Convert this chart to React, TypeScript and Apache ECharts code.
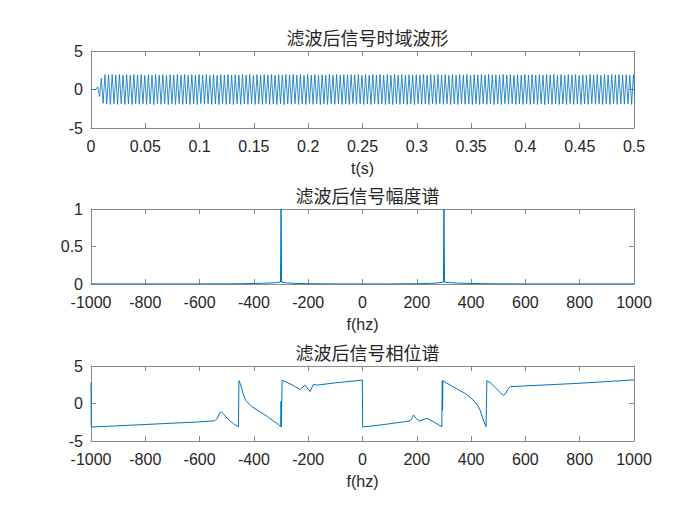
import React, { useEffect, useRef } from "react";
import * as echarts from "echarts";

// ---------- data ----------
const titles = ["滤波后信号时域波形", "滤波后信号幅度谱", "滤波后信号相位谱"];
const xNames = ["t(s)", "f(hz)", "f(hz)"];

// time-domain waveform: leading flat part, then successive half-cycle extremes
const waveLead: number[][] = [[0, 0]];
const waveStart = 0.0045; // s, first extreme
const waveStep = 1 / 600; // s, half period of the 300 Hz tone
const wavePeaks = [
  0, 0.35, -0.9, 1.45, -1.8,
  1.92, -1.86, 1.88, -1.95, 1.94, -1.84, 1.87, -1.93, 1.95, -1.85, 1.86, -1.94,
  1.93, -1.87, 1.85, -1.95, 1.94, -1.83, 1.88, -1.92, 1.95, -1.86, 1.84, -1.94,
  1.91, -1.88, 1.86, -1.96, 1.93, -1.84, 1.89, -1.92, 1.94, -1.85, 1.85, -1.95,
  1.92, -1.86, 1.88, -1.94, 1.95, -1.83, 1.87, -1.93, 1.94, -1.86, 1.84, -1.95,
  1.93, -1.87, 1.86, -1.95, 1.94, -1.84, 1.88, -1.92, 1.95, -1.85, 1.85, -1.94,
  1.92, -1.88, 1.85, -1.96, 1.93, -1.83, 1.89, -1.93, 1.94, -1.86, 1.86, -1.95,
  1.91, -1.86, 1.87, -1.94, 1.95, -1.84, 1.88, -1.92, 1.95, -1.85, 1.84, -1.94,
  1.93, -1.87, 1.86, -1.95, 1.94, -1.83, 1.87, -1.93, 1.94, -1.86, 1.85, -1.95,
  1.92, -1.86, 1.88, -1.96, 1.93, -1.84, 1.89, -1.92, 1.95, -1.85, 1.86, -1.94,
  1.93, -1.88, 1.85, -1.95, 1.94, -1.83, 1.88, -1.93, 1.94, -1.86, 1.84, -1.95,
  1.91, -1.87, 1.86, -1.94, 1.95, -1.84, 1.87, -1.92, 1.95, -1.85, 1.85, -1.94,
  1.92, -1.86, 1.88, -1.95, 1.93, -1.83, 1.89, -1.93, 1.94, -1.86, 1.86, -1.96,
  1.93, -1.87, 1.85, -1.94, 1.94, -1.84, 1.88, -1.92, 1.95, -1.85, 1.84, -1.95,
  1.92, -1.88, 1.86, -1.95, 1.95, -1.83, 1.87, -1.93, 1.94, -1.86, 1.85, -1.94,
  1.91, -1.86, 1.88, -1.96, 1.93, -1.84, 1.89, -1.92, 1.95, -1.85, 1.86, -1.95,
  1.93, -1.87, 1.85, -1.94, 1.94, -1.83, 1.88, -1.93, 1.94, -1.86, 1.84, -1.94,
  1.92, -1.88, 1.86, -1.95, 1.95, -1.84, 1.87, -1.92, 1.95, -1.85, 1.85, -1.95,
  1.93, -1.86, 1.88, -1.94, 1.93, -1.83, 1.89, -1.93, 1.94, -1.86, 1.86, -1.96,
  1.91, -1.87, 1.85, -1.95, 1.94, -1.84, 1.88, -1.92, 1.95, -1.85, 1.84, -1.94,
  1.92, -1.88, 1.86, -1.94, 1.95, -1.83, 1.87, -1.93, 1.94, -1.86, 1.85, -1.95,
  1.93, -1.86, 1.88, -1.96, 1.93, -1.84, 1.89, -1.92, 1.95, -1.85, 1.86, -1.94,
  1.92, -1.87, 1.85, -1.95, 1.94, -1.83, 1.88, -1.93, 1.94, -1.86, 1.84, -1.95,
  1.91, -1.88, 1.86, -1.94, 1.95, -1.84, 1.87, -1.92, 1.95, -1.85, 1.85, -1.94,
  1.93, -1.86, 1.88, -1.95, 1.93, -1.83, 1.89, -1.93, 1.94, -1.86, 1.86, -1.9,
  1.92, -1.87, 1.85, -1.95, 1.94, -1.84, 1.88, -1.92, 1.95, -1.85, 1.84, -1.94,
];

// magnitude spectrum [f(hz), |X|]
const magFreq = [-1000, -600, -500, -450, -400, -350, -320, -302, -300, -298, -280, -250, -200, -100, 0,
  100, 200, 250, 280, 298, 300, 302, 320, 350, 400, 450, 500, 600, 1000];
const magVal = [0.001, 0.001, 0.002, 0.004, 0.007, 0.012, 0.018, 0.025, 1, 0.025, 0.015, 0.008, 0.004, 0.001, 0.001,
  0.001, 0.004, 0.008, 0.015, 0.025, 1, 0.025, 0.018, 0.012, 0.007, 0.004, 0.002, 0.001, 0.001];

// phase spectrum [f(hz), phase]
const phaseFreq = [
  -1000, -999, -800, -600, -545, -535, -527, -521, -512, -495, -475, -460, -457,
  -455, -448, -440, -430, -408, -350, -310, -301, -300, -299, -296,
  -260, -230, -212, -193, -181, -168, -100, -0.5,
  0.5, 65, 150, 175, 180, 188, 198, 210, 237, 260, 292,
  294, 295, 296, 330, 380, 408, 425, 433, 445, 455,
  458, 470, 490, 510, 519, 527, 535, 545, 800, 1000,
];
const phaseVal = [
  2.8, -3.14, -2.8, -2.45, -2.3, -2.0, -1.3, -1.1, -1.4, -2.1, -2.7, -3.05, -3.12,
  3.05, 2.4, 1.3, 0.4, -0.4, -1.75, -2.8, -3.1, 0.3, -3.1, 3.12,
  2.5, 1.85, 2.45, 1.6, 2.55, 2.45, 2.75, 3.13,
  -3.14, -2.87, -2.45, -2.33, -2.1, -1.53, -2.0, -2.33, -1.98, -2.4, -3.1,
  3.04, -0.9, 3.04, 2.3, 1.3, 0.47, -0.3, -0.87, -2.2, -3.1,
  3.04, 2.8, 2.1, 1.35, 1.12, 1.3, 1.9, 2.25, 2.7, 3.15,
];

const xRanges = [
  { min: 0, max: 0.5, interval: 0.05 },
  { min: -1000, max: 1000, interval: 200 },
  { min: -1000, max: 1000, interval: 200 },
];
const yRanges = [
  { min: -5, max: 5, interval: 5 },
  { min: 0, max: 1, interval: 0.5 },
  { min: -5, max: 5, interval: 5 },
];

// ---------- styling ----------
const BOX = "#8a8a8a";
const TXT = "#262626";
const LINE = "#0072BD";
const FONT = "'Liberation Sans', Arial, Helvetica, sans-serif";
const CJK = "'Noto Sans CJK SC', sans-serif";

const grids = [
  { left: 91, top: 51, width: 543, height: 77 },
  { left: 91, top: 209, width: 543, height: 75 },
  { left: 91, top: 366, width: 543, height: 75 },
];
const titleTops = [23, 181, 338];

const fmt = (v: number) => String(Math.round(v * 1000) / 1000);

export default function App() {
  const ref = useRef<HTMLDivElement>(null);
  useEffect(() => {
    if (!ref.current) return;
    const chart = echarts.init(ref.current, undefined, { renderer: "svg" });

    const xAxis: any[] = [];
    const yAxis: any[] = [];
    grids.forEach((_, i) => {
      const tick = { show: true, inside: true, length: 5, lineStyle: { color: BOX, width: 1 } };
      const line = { show: true, onZero: false, lineStyle: { color: BOX, width: 1 } };
      xAxis.push({
        type: "value", gridIndex: i, position: "bottom", ...xRanges[i],
        axisLine: line, axisTick: tick, splitLine: { show: false },
        axisLabel: { show: true, margin: 10, color: TXT, fontSize: 16, fontFamily: FONT, formatter: fmt },
        name: xNames[i], nameLocation: "middle", nameGap: 32,
        nameTextStyle: { color: TXT, fontSize: 16, fontFamily: FONT },
      });
      xAxis.push({
        type: "value", gridIndex: i, position: "top", ...xRanges[i],
        axisLine: line, axisTick: tick, splitLine: { show: false }, axisLabel: { show: false },
      });
      yAxis.push({
        type: "value", gridIndex: i, position: "left", ...yRanges[i],
        axisLine: line, axisTick: tick, splitLine: { show: false },
        axisLabel: { show: true, margin: 8, color: TXT, fontSize: 16, fontFamily: FONT, formatter: fmt },
      });
      yAxis.push({
        type: "value", gridIndex: i, position: "right", ...yRanges[i],
        axisLine: line, axisTick: tick, splitLine: { show: false }, axisLabel: { show: false },
      });
    });

    const waveData = [
      ...waveLead,
      ...wavePeaks.map((v, i) => [waveStart + i * waveStep, v]),
    ];
    const magData = magFreq.map((f, i) => [f, magVal[i]]);
    const phaseData = phaseFreq.map((f, i) => [f, phaseVal[i]]);

    const lineSeries = (data: number[][], idx: number, width: number) => ({
      type: "line", xAxisIndex: idx * 2, yAxisIndex: idx * 2, data,
      showSymbol: false, symbol: "none", clip: true, silent: true,
      lineStyle: { color: LINE, width },
    });

    chart.setOption({
      animation: false,
      backgroundColor: "#ffffff",
      title: titles.map((t, i) => ({
        text: t, left: 362.5, top: titleTops[i], textAlign: "center",
        textStyle: { color: TXT, fontSize: 18, fontWeight: "normal", fontFamily: CJK },
      })),
      grid: grids,
      xAxis,
      yAxis,
      series: [
        lineSeries(waveData, 0, 0.8),
        lineSeries(magData, 1, 1),
        lineSeries(phaseData, 2, 1),
      ],
    });
    return () => chart.dispose();
  }, []);
  return (
    <div
      ref={ref}
      style={{ position: "fixed", left: 0, top: 0, width: 700, height: 525, background: "#fff" }}
    />
  );
}
